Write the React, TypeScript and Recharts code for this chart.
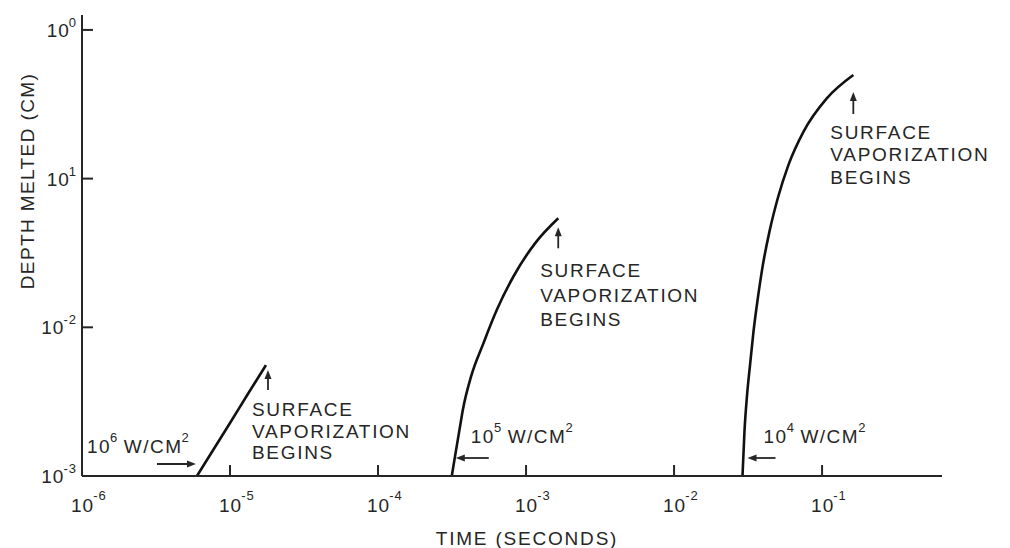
import { LineChart, Line, XAxis, YAxis, ReferenceDot, Label } from 'recharts';

// axis ticks (log decades) and the exponents printed beside them
const xTicks = [1e-6, 1e-5, 1e-4, 1e-3, 1e-2, 1e-1];
const xTickExp = ['-6', '-5', '-4', '-3', '-2', '-1'];
const yTicks = [1e-3, 1e-2, 1e-1, 1];
const yTickExp = ['-3', '-2', '1', '0'];

// melt depth (cm) vs time (s)
const flux1e6 = [
  { x: 5.98e-6, y: 0.001 },
  { x: 1.0e-5, y: 0.00227 },
  { x: 1.32e-5, y: 0.00356 },
  { x: 1.75e-5, y: 0.00557 },
];
const flux1e5 = [
  { x: 3.15e-4, y: 0.001 },
  { x: 3.31e-4, y: 0.00135 },
  { x: 3.58e-4, y: 0.00215 },
  { x: 3.74e-4, y: 0.00278 },
  { x: 4.25e-4, y: 0.00466 },
  { x: 5.15e-4, y: 0.0078 },
  { x: 6.34e-4, y: 0.01306 },
  { x: 8.2e-4, y: 0.02188 },
  { x: 1.15e-3, y: 0.0367 },
  { x: 1.65e-3, y: 0.0541 },
];
const flux1e4 = [
  { x: 0.029, y: 0.001 },
  { x: 0.0299, y: 0.00199 },
  { x: 0.031, y: 0.00333 },
  { x: 0.0326, y: 0.00557 },
  { x: 0.0344, y: 0.00934 },
  { x: 0.0368, y: 0.01567 },
  { x: 0.0398, y: 0.0262 },
  { x: 0.0441, y: 0.044 },
  { x: 0.0502, y: 0.0738 },
  { x: 0.0592, y: 0.1233 },
  { x: 0.0748, y: 0.2065 },
  { x: 0.1076, y: 0.3467 },
  { x: 0.1626, y: 0.4977 },
];
const fluxExp = ['6', '5', '4'];
const noteLines = ['SURFACE', 'VAPORIZATION', 'BEGINS'];

const INK = '#262626';
const FONT = '"Liberation Sans", Arial, sans-serif';

// pixel offsets of the annotations relative to the curve start / end
const layout = [
  { flux: { tx: -110, ty: -23, a1: -40, a2: -1, ay: -12 }, note: { ax: 2, ay1: 25, ay2: 5, tx: -14, ty: 37, gap: 21.5 } },
  { flux: { tx: 19, ty: -33, a1: 37, a2: 4, ay: -18 }, note: { ax: 0, ay1: 30, ay2: 9, tx: -18, ty: 45, gap: 24.5 } },
  { flux: { tx: 21, ty: -33, a1: 33, a2: 5, ay: -18 }, note: { ax: 0, ay1: 39, ay2: 17, tx: -23, ty: 50, gap: 22.5 } },
];

function XTick({ x, y, index }: any) {
  return (
    <g>
      <line x1={x} y1={y} x2={x} y2={y - 11} stroke={INK} strokeWidth={2} />
      <text x={x - 11} y={y + 36} fill={INK} fontFamily={FONT} fontSize={19} letterSpacing={1}>
        10
        <tspan dx={-1} dy={-12} fontSize={13}>{xTickExp[index]}</tspan>
      </text>
    </g>
  );
}

function YTick({ x, y, index }: any) {
  return (
    <g>
      <line x1={x} y1={y} x2={x + 11} y2={y} stroke={INK} strokeWidth={2} />
      <text x={x - 5} y={y + 7} fill={INK} fontFamily={FONT} fontSize={19} letterSpacing={1} textAnchor="end">
        10
        <tspan dx={-1} dy={-10} fontSize={13}>{yTickExp[index]}</tspan>
      </text>
    </g>
  );
}

function FluxNote({ cx, cy, i }: any) {
  const f = layout[i].flux;
  const y = cy + f.ay;
  const head = cx + f.a2;
  const dir = f.a2 > f.a1 ? 1 : -1;
  return (
    <g>
      <line x1={cx + f.a1} y1={y} x2={head - dir * 6} y2={y} stroke={INK} strokeWidth={1.8} />
      <polygon points={`${head},${y} ${head - dir * 9},${y - 3.5} ${head - dir * 9},${y + 3.5}`} fill={INK} />
      <text x={cx + f.tx} y={cy + f.ty} fill={INK} fontFamily={FONT} fontSize={19} letterSpacing={1.5}>
        10
        <tspan dx={-1} dy={-11} fontSize={13}>{fluxExp[i]}</tspan>
        <tspan dx={5} dy={11}>W/CM</tspan>
        <tspan dx={-1} dy={-11} fontSize={13}>2</tspan>
      </text>
    </g>
  );
}

function VapNote({ cx, cy, i }: any) {
  const n = layout[i].note;
  const ax = cx + n.ax;
  const top = cy + n.ay2;
  return (
    <g>
      <line x1={ax} y1={cy + n.ay1} x2={ax} y2={top + 6} stroke={INK} strokeWidth={1.8} />
      <polygon points={`${ax},${top} ${ax - 3.5},${top + 9} ${ax + 3.5},${top + 9}`} fill={INK} />
      <text fill={INK} fontFamily={FONT} fontSize={19} letterSpacing={1.7}>
        {noteLines.map((s, k) => (
          <tspan key={k} x={cx + n.tx} y={cy + n.ty + 14 + k * n.gap}>{s}</tspan>
        ))}
      </text>
    </g>
  );
}

const curves = [flux1e6, flux1e5, flux1e4];

export default function App() {
  return (
    <div style={{ position: 'absolute', left: 0, top: 0, background: '#fff' }}>
      <LineChart width={1010} height={548} margin={{ top: 15, right: 68, left: 22, bottom: 32 }}>
        <XAxis
          type="number"
          dataKey="x"
          scale="log"
          domain={[1e-6, 0.646]}
          allowDataOverflow
          ticks={xTicks}
          interval={0}
          height={40}
          tickSize={0}
          tickMargin={0}
          tick={<XTick />}
          axisLine={{ stroke: INK, strokeWidth: 2 }}
        >
          <Label
            content={({ viewBox }: any) => (
              <text
                x={viewBox.x + viewBox.width / 2 + 15}
                y={viewBox.y + 69}
                textAnchor="middle"
                fill={INK}
                fontFamily={FONT}
                fontSize={19}
                letterSpacing={1.8}
              >
                TIME (SECONDS)
              </text>
            )}
          />
        </XAxis>
        <YAxis
          type="number"
          dataKey="y"
          scale="log"
          domain={[0.001, 1.26]}
          allowDataOverflow
          ticks={yTicks}
          interval={0}
          width={60}
          tickSize={0}
          tickMargin={0}
          tick={<YTick />}
          axisLine={{ stroke: INK, strokeWidth: 2 }}
        >
          <Label
            content={() => (
              <text
                x={27}
                y={181}
                transform="rotate(-90 27 181)"
                textAnchor="middle"
                dominantBaseline="central"
                fill={INK}
                fontFamily={FONT}
                fontSize={19}
                letterSpacing={1.4}
              >
                DEPTH MELTED (CM)
              </text>
            )}
          />
        </YAxis>
        {curves.map((c, i) => (
          <Line
            key={i}
            data={c}
            dataKey="y"
            type="monotone"
            stroke="#111"
            strokeWidth={2.6}
            dot={false}
            activeDot={false}
            isAnimationActive={false}
          />
        ))}
        {curves.map((c, i) => (
          <ReferenceDot
            key={`f${i}`}
            x={c[0].x}
            y={c[0].y}
            r={0}
            ifOverflow="visible"
            shape={(p: any) => <FluxNote cx={p.cx} cy={p.cy} i={i} />}
          />
        ))}
        {curves.map((c, i) => (
          <ReferenceDot
            key={`v${i}`}
            x={c[c.length - 1].x}
            y={c[c.length - 1].y}
            r={0}
            ifOverflow="visible"
            shape={(p: any) => <VapNote cx={p.cx} cy={p.cy} i={i} />}
          />
        ))}
      </LineChart>
    </div>
  );
}
